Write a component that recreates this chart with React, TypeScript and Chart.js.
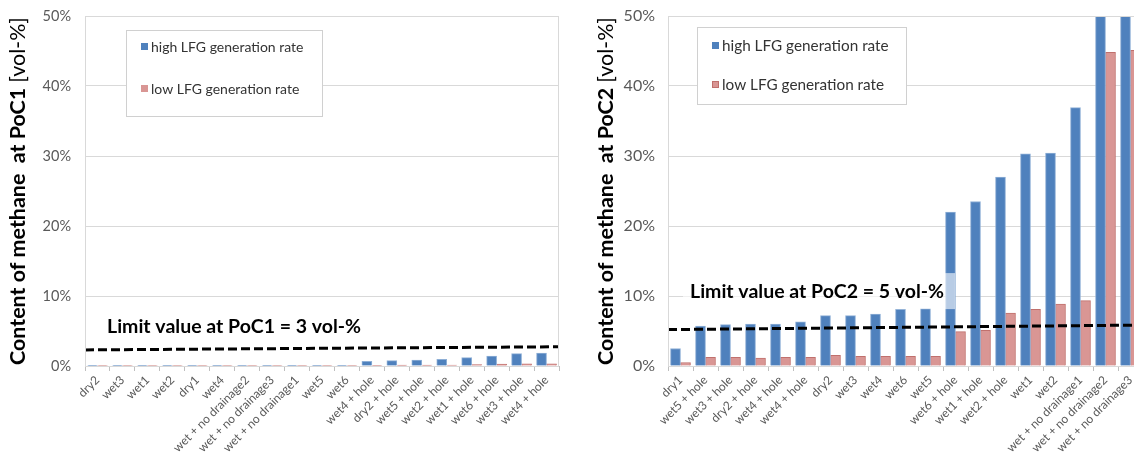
import React, { useEffect, useRef } from 'react';
import { Chart, registerables } from 'chart.js';

Chart.register(...registerables);

const FONT = 'Lato, "Liberation Sans", sans-serif';

// ---- PoC1 data ----
const poc1Categories = [
  'dry2', 'wet3', 'wet1', 'wet2', 'dry1', 'wet4',
  'wet + no drainage2', 'wet + no drainage3', 'wet + no drainage1',
  'wet5', 'wet6', 'wet4 + hole', 'dry2 + hole', 'wet5 + hole', 'wet2 + hole',
  'wet1 + hole', 'wet6 + hole', 'wet3 + hole', 'wet4 + hole',
];
const poc1High = [0.1, 0.1, 0.1, 0.1, 0.1, 0.1, 0.1, 0.1, 0.1, 0.1, 0.1, 0.68, 0.76, 0.86, 0.95, 1.2, 1.43, 1.76, 1.86];
const poc1Low = [0.08, 0.08, 0.08, 0.08, 0.08, 0.08, 0.08, 0.08, 0.08, 0.08, 0.08, 0.1, 0.12, 0.12, 0.14, 0.22, 0.26, 0.3, 0.3];
const poc1Limit = [2.3, 2.75]; // dashed limit line, start and end

// ---- PoC2 data ----
const poc2Categories = [
  'dry1', 'wet5 + hole', 'wet3 + hole', 'dry2 + hole', 'wet4 + hole', 'wet4 + hole',
  'dry2', 'wet3', 'wet4', 'wet6', 'wet5', 'wet6 + hole', 'wet1 + hole', 'wet2 + hole',
  'wet1', 'wet2', 'wet + no drainage1', 'wet + no drainage2', 'wet + no drainage3',
];
const poc2High = [2.5, 5.7, 5.9, 6.0, 6.0, 6.3, 7.2, 7.2, 7.4, 8.1, 8.2, 22.0, 23.5, 27.0, 30.3, 30.4, 36.9, 50, 50];
const poc2Low = [0.5, 1.24, 1.24, 1.14, 1.24, 1.24, 1.52, 1.38, 1.38, 1.38, 1.38, 4.9, 5.1, 7.57, 8.1, 8.86, 9.33, 44.8, 45.1];
const poc2Limit = [5.2, 5.85];

const yTicks = [0, 10, 20, 30, 40, 50];
const seriesNames = ['high LFG generation rate', 'low LFG generation rate'];

const BLUE = '#4f81bd';
const BLUE_EDGE = '#8eafd6';
const RED = '#d99694';
const RED_EDGE = '#c0706d';

const overlayPlugin = {
  id: 'overlay',
  afterDatasetsDraw(chart: any, _args: any, opts: any) {
    const { ctx, chartArea: a, scales } = chart;
    ctx.save();
    // plot area border
    ctx.strokeStyle = '#d9d9d9';
    ctx.lineWidth = 1;
    ctx.strokeRect(a.left + 0.5, a.top + 0.5, a.right - a.left - 1, a.bottom - a.top);

    // limit text box
    ctx.font = `bold ${opts.limitFont}px ${FONT}`;
    const tw = ctx.measureText(opts.limitText).width;
    const tx = a.left + opts.limitDx;
    const ty = scales.y.getPixelForValue(opts.limitValue);
    ctx.fillStyle = 'rgba(255,255,255,0.6)';
    ctx.fillRect(tx - 7, ty - 25, tw + 18, 36);
    ctx.fillStyle = '#000';
    ctx.textBaseline = 'alphabetic';
    ctx.textAlign = 'left';
    ctx.fillText(opts.limitText, tx, ty);

    // legend box
    const L = opts.legend;
    const lx = a.left + L.dx;
    const ly = a.top + L.dy;
    ctx.fillStyle = '#fff';
    ctx.fillRect(lx, ly, L.w, L.h);
    ctx.strokeStyle = '#d0d0d0';
    ctx.strokeRect(lx + 0.5, ly + 0.5, L.w, L.h);
    ctx.font = `${L.font}px ${FONT}`;
    ctx.textBaseline = 'middle';
    const bars = chart.data.datasets.filter((d: any) => d.type !== 'line');
    bars.forEach((d: any, i: number) => {
      const cy = ly + L.row0 + i * L.rowGap;
      ctx.fillStyle = d.backgroundColor;
      ctx.fillRect(lx + L.markX, cy - 4, 7, 7);
      if (L.markBorder && i === 1) {
        ctx.strokeStyle = d.borderColor;
        ctx.strokeRect(lx + L.markX + 0.5, cy - 3.5, 6, 6);
      }
      ctx.fillStyle = '#333';
      ctx.fillText(d.label, lx + L.markX + 10, cy);
    });
    ctx.restore();
  },
  afterDraw(chart: any, _args: any, opts: any) {
    const { ctx, chartArea: a } = chart;
    ctx.save();
    const span = a.bottom - a.top - 2;
    const base = 20;
    ctx.font = `bold ${base}px ${FONT}`;
    const wb0 = ctx.measureText(opts.titleBold).width;
    ctx.font = `${base}px ${FONT}`;
    const wn0 = ctx.measureText(opts.titleNormal).width;
    const size = base * span / (wb0 + wn0);
    ctx.font = `bold ${size}px ${FONT}`;
    const wb = ctx.measureText(opts.titleBold).width;
    ctx.font = `${size}px ${FONT}`;
    const wn = ctx.measureText(opts.titleNormal).width;
    const cy = (a.top + a.bottom) / 2;
    ctx.translate(opts.titleX, cy);
    ctx.rotate(-Math.PI / 2);
    ctx.textBaseline = 'middle';
    ctx.textAlign = 'left';
    let x = -(wb + wn) / 2;
    ctx.fillStyle = '#000';
    ctx.font = `bold ${size}px ${FONT}`;
    ctx.fillText(opts.titleBold, x, 0);
    x += wb;
    ctx.font = `${size}px ${FONT}`;
    ctx.fillText(opts.titleNormal, x, 0);
    ctx.restore();
  },
};

function makeConfig(p: {
  categories: string[]; high: number[]; low: number[]; limit: number[];
  yWidth: number; padRight: number; yTickFont: number; tickPad: number;
  overlay: any;
}) {
  return {
    type: 'bar' as const,
    data: {
      labels: p.categories,
      datasets: [
        {
          type: 'line',
          label: 'limit',
          xAxisID: 'xl',
          data: [{ x: 0, y: p.limit[0] }, { x: 1, y: p.limit[1] }],
          borderColor: '#000',
          borderWidth: 3,
          borderDash: [9, 4],
          pointRadius: 0,
          fill: false,
          order: 0,
        },
        {
          label: seriesNames[0],
          data: p.high,
          backgroundColor: BLUE,
          borderColor: BLUE_EDGE,
          borderWidth: 1,
          barThickness: 10,
          order: 1,
        },
        {
          label: seriesNames[1],
          data: p.low,
          backgroundColor: RED,
          borderColor: RED_EDGE,
          borderWidth: 1,
          barThickness: 10,
          order: 1,
        },
      ],
    },
    options: {
      animation: false,
      responsive: false,
      layout: { autoPadding: false, padding: { left: 0, right: p.padRight, top: 16, bottom: 0 } },
      plugins: {
        legend: { display: false },
        tooltip: { enabled: false },
        overlay: p.overlay,
      },
      scales: {
        x: {
          type: 'category',
          grid: { drawOnChartArea: false, drawTicks: true, tickLength: 5, color: '#bfbfbf', offset: true },
          border: { color: '#bfbfbf' },
          ticks: {
            autoSkip: false,
            maxRotation: 45,
            minRotation: 45,
            padding: 2,
            color: '#595959',
            font: { family: FONT, size: 12 },
          },
          afterFit: (s: any) => { s.height = 89; },
        },
        xl: {
          type: 'linear',
          display: false,
          offset: false,
          grid: { offset: false },
          min: 0,
          max: 1,
        },
        y: {
          min: 0,
          max: 50,
          afterBuildTicks: (s: any) => { s.ticks = yTicks.map((v) => ({ value: v })); },
          grid: { color: '#d9d9d9', drawTicks: false },
          border: { color: '#bfbfbf' },
          ticks: {
            padding: p.tickPad,
            color: '#595959',
            font: { family: FONT, size: p.yTickFont },
            callback: (v: any) => `${v}%`,
          },
          afterFit: (s: any) => {
            s.width = p.yWidth;
            s.paddingTop = 0;
            s.paddingBottom = 0;
          },
        },
      },
    },
    plugins: [overlayPlugin],
  };
}

function ChartCanvas({ config, width, height, left }: any) {
  const ref = useRef<HTMLCanvasElement | null>(null);
  useEffect(() => {
    if (!ref.current) return;
    const chart = new Chart(ref.current, config as any);
    return () => chart.destroy();
  }, []);
  return (
    <canvas
      ref={ref}
      width={width}
      height={height}
      style={{ position: 'absolute', left, top: 0, width, height }}
    />
  );
}

export default function App() {
  const left = makeConfig({
    categories: poc1Categories, high: poc1High, low: poc1Low, limit: poc1Limit,
    yWidth: 85, padRight: 8, yTickFont: 14.5, tickPad: 14,
    overlay: {
      titleBold: 'Content of methane  at PoC1 ', titleNormal: '[vol-%]', titleX: 18,
      limitText: 'Limit value at PoC1 = 3 vol-%', limitDx: 22, limitValue: 4.7, limitFont: 19.5,
      legend: { dx: 41, dy: 14, w: 196, h: 86, row0: 17, rowGap: 42, markX: 15, font: 14, markBorder: false },
    },
  });
  const right = makeConfig({
    categories: poc2Categories, high: poc2High, low: poc2Low, limit: poc2Limit,
    yWidth: 101, padRight: 14, yTickFont: 16, tickPad: 13,
    overlay: {
      titleBold: 'Content of methane  at PoC2 ', titleNormal: '[vol-%]', titleX: 39,
      limitText: 'Limit value at PoC2 = 5 vol-%', limitDx: 22, limitValue: 9.7, limitFont: 19.5,
      legend: { dx: 29, dy: 11, w: 209, h: 77, row0: 19, rowGap: 39, markX: 15, font: 15.3, markBorder: true },
    },
  });
  return (
    <div style={{ position: 'fixed', left: 0, top: 0, width: 1134, height: 455, overflow: 'hidden', background: '#fff' }}>
      <ChartCanvas config={left} width={567} height={455} left={0} />
      <ChartCanvas config={right} width={590} height={455} left={567} />
    </div>
  );
}
